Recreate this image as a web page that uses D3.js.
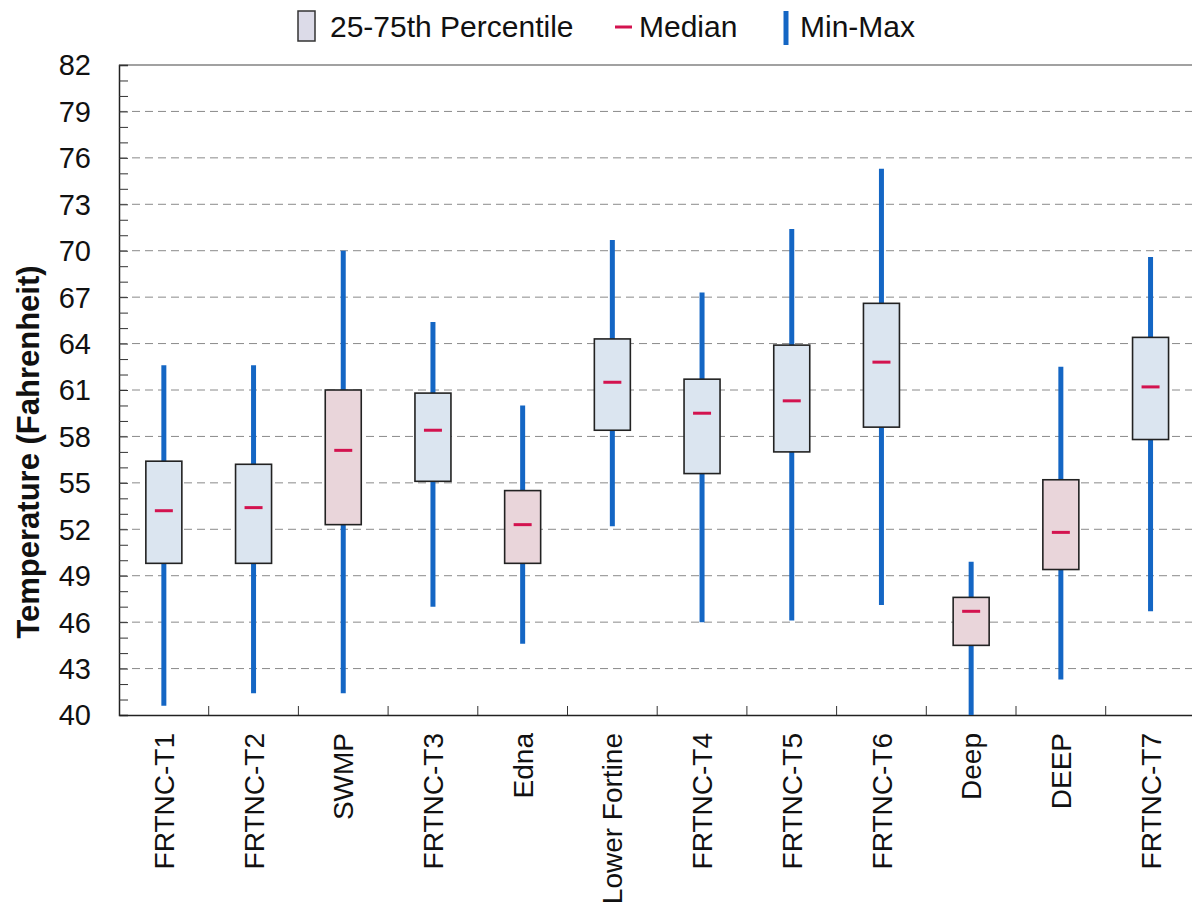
<!DOCTYPE html>
<html><head><meta charset="utf-8">
<script src="https://cdn.jsdelivr.net/npm/d3@7"></script>
<style>
body{margin:0;background:#fff;}
svg{display:block;font-family:"Liberation Sans",Arial,sans-serif;}
</style></head>
<body>
<svg id="chart" width="1192" height="913"></svg>
<script>
const categories = ["FRTNC-T1","FRTNC-T2","SWMP","FRTNC-T3","Edna","Lower Fortine","FRTNC-T4","FRTNC-T5","FRTNC-T6","Deep","DEEP","FRTNC-T7"];
const minVals    = [40.6, 41.4, 41.4, 47.0, 44.6, 52.2, 46.0, 46.1, 47.1, 40.0, 42.3, 46.7];
const q1Vals     = [49.8, 49.8, 52.3, 55.1, 49.8, 58.4, 55.6, 57.0, 58.6, 44.5, 49.4, 57.8];
const medianVals = [53.2, 53.4, 57.1, 58.4, 52.3, 61.5, 59.5, 60.3, 62.8, 46.7, 51.8, 61.2];
const q3Vals     = [56.4, 56.2, 61.0, 60.8, 54.5, 64.3, 61.7, 63.9, 66.6, 47.6, 55.2, 64.4];
const maxVals    = [62.6, 62.6, 70.0, 65.4, 60.0, 70.7, 67.3, 71.4, 75.3, 49.9, 62.5, 69.6];
const boxColors  = ["blue","blue","pink","blue","pink","blue","blue","blue","blue","pink","pink","blue"];
const yTicks = [40,43,46,49,52,55,58,61,64,67,70,73,76,79,82];
const legendItems = ["25-75th Percentile","Median","Min-Max"];

const fills = {blue:"#dbe5f0", pink:"#e9d5da"};
const whiskerColor = "#1466c4", medianColor = "#d3134f";

const svg = d3.select("#chart");
const L = 119, T = 65, B = 715, step = 89.7;
const R = L + step*categories.length;

const x = d3.scaleBand().domain(categories).range([L, R]).padding(0);
const y = d3.scaleLinear().domain([40, 82]).range([B, T]);

// gridlines
svg.append("g").selectAll("line").data(yTicks.filter(v => v>40 && v<82)).join("line")
  .attr("x1", L).attr("x2", R).attr("y1", d=>y(d)).attr("y2", d=>y(d))
  .attr("stroke", "#8a8a8a").attr("stroke-width", 1).attr("stroke-dasharray", "8,5");

// frame top
svg.append("line").attr("x1", L).attr("x2", R).attr("y1", T).attr("y2", T).attr("stroke", "#444").attr("stroke-width", 1.2);

// y axis
const yAxis = d3.axisLeft(y).tickValues(d3.range(40, 83, 1)).tickSize(-9).tickFormat("");
const gy = svg.append("g").attr("transform", `translate(${L},0)`).call(yAxis);
gy.select(".domain").attr("stroke", "#222").attr("stroke-width", 1.5);
gy.selectAll(".tick line").attr("stroke", "#333");
svg.append("g").selectAll("text").data(yTicks).join("text")
  .attr("x", 91).attr("y", d=>y(d)).attr("dy", "0.36em").attr("text-anchor", "end")
  .attr("font-size", 29).attr("fill", "#111").text(d=>d);

// x axis
const gx = svg.append("g").attr("transform", `translate(0,${B})`)
  .call(d3.axisBottom(x).tickSize(0).tickFormat(""));
gx.select(".domain").attr("stroke", "#222").attr("stroke-width", 1.5);
svg.append("g").selectAll("line").data(categories.slice(1)).join("line")
  .attr("x1", d=>x(d)).attr("x2", d=>x(d)).attr("y1", B).attr("y2", B-9).attr("stroke", "#333");

svg.append("g").selectAll("text").data(categories).join("text")
  .attr("transform", d=>`translate(${x(d)+x.bandwidth()/2},733) rotate(-90)`)
  .attr("dy", "0.36em").attr("text-anchor", "end").attr("font-size", 28).attr("fill", "#111")
  .text(d=>d);

// y title
svg.append("text").attr("transform", "translate(28,452) rotate(-90)")
  .attr("dy", "0.36em").attr("text-anchor", "middle").attr("font-size", 31).attr("font-weight", "bold")
  .attr("fill", "#111").text("Temperature (Fahrenheit)");

// boxes
const idx = d3.range(categories.length);
const cx = i => x(categories[i]) + x.bandwidth()/2;
const bw = 36;
const g = svg.append("g");
g.selectAll(".whisk").data(idx).join("line")
  .attr("x1", cx).attr("x2", cx).attr("y1", i=>y(maxVals[i])).attr("y2", i=>y(minVals[i]))
  .attr("stroke", whiskerColor).attr("stroke-width", 5);
g.selectAll(".box").data(idx).join("rect")
  .attr("x", i=>cx(i)-bw/2).attr("width", bw)
  .attr("y", i=>y(q3Vals[i])).attr("height", i=>y(q1Vals[i])-y(q3Vals[i]))
  .attr("fill", i=>fills[boxColors[i]]).attr("stroke", "#222").attr("stroke-width", 1.6);
g.selectAll(".med").data(idx).join("line")
  .attr("x1", i=>cx(i)-9).attr("x2", i=>cx(i)+9).attr("y1", i=>y(medianVals[i])).attr("y2", i=>y(medianVals[i]))
  .attr("stroke", medianColor).attr("stroke-width", 3);

// legend
const lg = svg.append("g");
lg.append("rect").attr("x", 298).attr("y", 11).attr("width", 17).attr("height", 30)
  .attr("fill", "#dcdbe8").attr("stroke", "#333").attr("stroke-width", 1.5);
lg.append("text").attr("x", 330).attr("y", 26).attr("dy", "0.36em").attr("font-size", 30).attr("fill","#111").text(legendItems[0]);
lg.append("line").attr("x1", 615).attr("x2", 632).attr("y1", 27).attr("y2", 27).attr("stroke", medianColor).attr("stroke-width", 3);
lg.append("text").attr("x", 639).attr("y", 26).attr("dy", "0.36em").attr("font-size", 30).attr("fill","#111").text(legendItems[1]);
lg.append("line").attr("x1", 786).attr("x2", 786).attr("y1", 11).attr("y2", 45).attr("stroke", whiskerColor).attr("stroke-width", 5);
lg.append("text").attr("x", 800).attr("y", 26).attr("dy", "0.36em").attr("font-size", 30).attr("fill","#111").text(legendItems[2]);
</script>
</body></html>
